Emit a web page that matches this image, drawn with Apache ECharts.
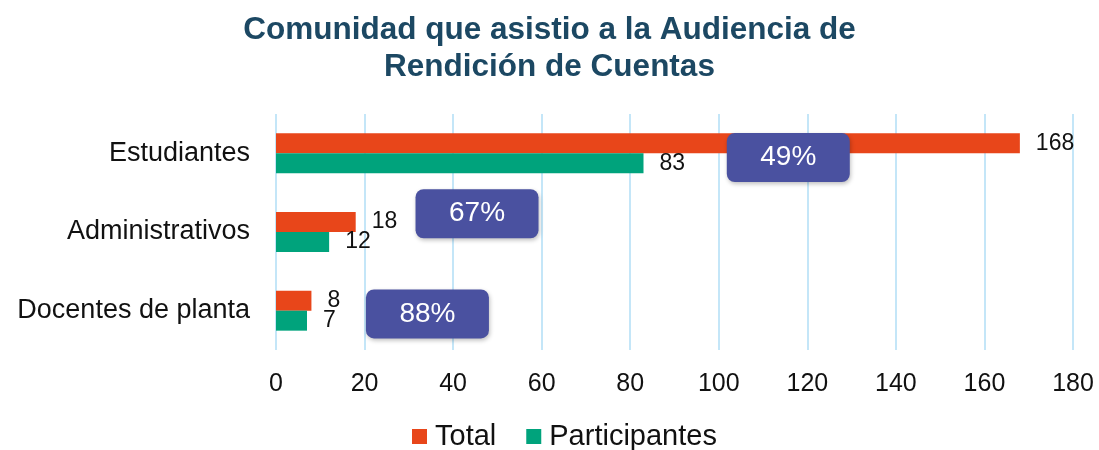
<!DOCTYPE html>
<html>
<head>
<meta charset="utf-8">
<script src="https://cdn.jsdelivr.net/npm/echarts@6/dist/echarts.min.js"></script>
<style>
    html, body { margin: 0; padding: 0; background: #fff; }
    #chart { width: 1099px; height: 450px; }
</style>
</head>
<body>
<div id="chart"></div>
<script>
    var categorias = ['Estudiantes', 'Administrativos', 'Docentes de planta'];
    var total = [168, 18, 8];
    var participantes = [83, 12, 7];
    var ticks = [0, 20, 40, 60, 80, 100, 120, 140, 160, 180];
    // porcentaje de asistencia por grupo
    var porcentajes = participantes.map(function(v, i) {
        return Math.round(v / total[i] * 100) + '%';
    });
    // posicion de las cajas (valor del eje x, desplazamiento dentro de la banda)
    var cajaX = [115.7, 45.4, 34.2];
    var cajaDesp = [0.054, -0.232, 0.041];

    var chart = echarts.init(document.getElementById('chart'));
    var fuente = 'Liberation Sans, Arial, sans-serif';

    var cajas = categorias.map(function(c, i) {
        return [cajaX[i], i, cajaDesp[i], porcentajes[i]];
    });

    var option = {
        animation: false,
        title: {
            text: 'Comunidad que asistio a la Audiencia de\nRendición de Cuentas',
            left: 'center',
            top: 7,
            textStyle: {
                color: '#1c4863',
                fontSize: 31.5,
                fontWeight: 'bold',
                fontFamily: fuente,
                lineHeight: 37
            }
        },
        legend: {
            data: ['Total', 'Participantes'],
            top: 417,
            left: 407,
            icon: 'rect',
            itemWidth: 15,
            itemHeight: 15,
            itemGap: 30,
            textStyle: {
                color: '#111',
                fontSize: 29,
                fontFamily: fuente,
                padding: [0, 0, 0, 3]
            }
        },
        grid: {
            left: 276,
            right: 26,
            top: 114,
            bottom: 100
        },
        xAxis: {
            type: 'value',
            min: 0,
            max: 180,
            interval: 20,
            axisLine: { show: false },
            axisTick: { show: false },
            splitLine: {
                show: true,
                lineStyle: { color: '#c4e6f8', width: 2 }
            },
            axisLabel: {
                color: '#111',
                fontSize: 25,
                fontFamily: fuente,
                margin: 22,
                formatter: function(v) {
                    return ticks.indexOf(v) >= 0 ? String(v) : '';
                }
            }
        },
        yAxis: {
            type: 'category',
            data: categorias,
            inverse: true,
            axisLine: { show: false },
            axisTick: { show: false },
            axisLabel: {
                color: '#111',
                fontSize: 27,
                fontFamily: fuente,
                margin: 26
            }
        },
        series: [{
            name: 'Total',
            type: 'bar',
            data: total,
            barWidth: 20,
            barGap: '0%',
            itemStyle: { color: '#e8461a' },
            label: {
                show: true,
                position: 'right',
                distance: 16,
                color: '#111',
                fontSize: 23,
                fontFamily: fuente
            }
        }, {
            name: 'Participantes',
            type: 'bar',
            data: participantes,
            barWidth: 20,
            barGap: '0%',
            itemStyle: { color: '#00a37c' },
            label: {
                show: true,
                position: 'right',
                distance: 16,
                color: '#111',
                fontSize: 23,
                fontFamily: fuente
            }
        }, {
            name: 'porcentaje',
            type: 'custom',
            data: cajas,
            encode: { x: 0, y: 1 },
            z: 10,
            renderItem: function(params, api) {
                var p = api.coord([api.value(0), api.value(1)]);
                var banda = api.size([0, 1])[1];
                var cy = p[1] + api.value(2) * banda;
                var w = 123, h = 49;
                return {
                    type: 'group',
                    children: [{
                        type: 'rect',
                        shape: { x: p[0] - w / 2, y: cy - h / 2, width: w, height: h, r: 8 },
                        style: {
                            fill: '#4a51a0',
                            shadowBlur: 4,
                            shadowOffsetX: 1,
                            shadowOffsetY: 2,
                            shadowColor: 'rgba(0,0,0,0.25)'
                        }
                    }, {
                        type: 'text',
                        style: {
                            x: p[0],
                            y: cy,
                            text: cajas[params.dataIndex][3],
                            fill: '#fff',
                            fontSize: 28,
                            fontFamily: fuente,
                            align: 'center',
                            verticalAlign: 'middle'
                        }
                    }]
                };
            }
        }]
    };

    chart.setOption(option);
</script>
</body>
</html>
